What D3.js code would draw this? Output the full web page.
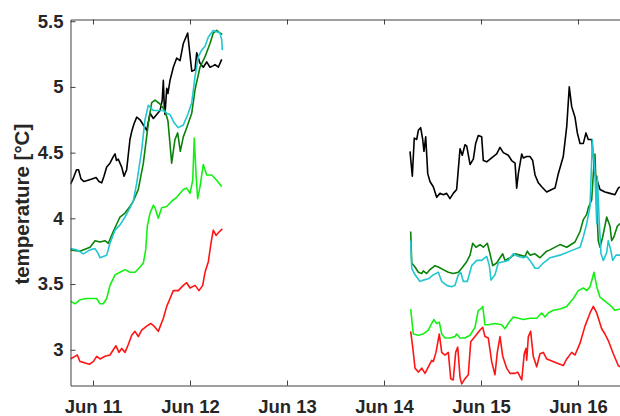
<!DOCTYPE html>
<html>
<head>
<meta charset="utf-8">
<script src="https://cdn.jsdelivr.net/npm/d3@7"></script>
<style>
  html, body { margin: 0; padding: 0; background: #fff; }
  svg { display: block; font-family: "Liberation Sans", Arial, Helvetica, sans-serif; }
</style>
</head>
<body>
<svg id="chart" width="620" height="416"></svg>
<script>
// ---- data: [day of June (decimal), temperature °C] ----
const blackSeg1 = [[10.768,4.26],[10.794,4.30],[10.830,4.37],[10.851,4.37],[10.876,4.30],[10.907,4.28],[10.948,4.29],[10.990,4.30],[11.031,4.31],[11.062,4.28],[11.090,4.27],[11.113,4.32],[11.141,4.39],[11.175,4.42],[11.209,4.47],[11.227,4.49],[11.242,4.44],[11.261,4.45],[11.296,4.39],[11.320,4.32],[11.347,4.37],[11.381,4.60],[11.399,4.66],[11.423,4.72],[11.451,4.77],[11.485,4.75],[11.519,4.71],[11.554,4.67],[11.588,4.80],[11.622,4.76],[11.657,4.79],[11.691,4.82],[11.714,4.90],[11.725,5.05],[11.735,4.85],[11.742,4.79],[11.760,4.99],[11.773,4.95],[11.794,5.05],[11.828,5.15],[11.863,5.22],[11.897,5.20],[11.931,5.33],[11.959,5.38],[11.976,5.41],[11.990,5.31],[12.018,5.12],[12.052,5.13],[12.069,5.26],[12.103,5.18],[12.137,5.15],[12.172,5.19],[12.206,5.15],[12.237,5.16],[12.258,5.17],[12.292,5.15],[12.327,5.21]];
const blackSeg2 = [[14.268,4.51],[14.292,4.32],[14.312,4.61],[14.337,4.60],[14.354,4.67],[14.378,4.69],[14.399,4.60],[14.412,4.51],[14.430,4.62],[14.451,4.34],[14.474,4.28],[14.508,4.24],[14.543,4.16],[14.577,4.19],[14.611,4.18],[14.646,4.19],[14.680,4.15],[14.714,4.19],[14.749,4.22],[14.784,4.53],[14.807,4.48],[14.835,4.56],[14.853,4.55],[14.887,4.41],[14.921,4.45],[14.945,4.57],[14.972,4.63],[15.007,4.62],[15.024,4.44],[15.059,4.43],[15.110,4.46],[15.162,4.49],[15.196,4.54],[15.230,4.50],[15.281,4.48],[15.316,4.44],[15.351,4.42],[15.368,4.23],[15.385,4.34],[15.420,4.49],[15.436,4.46],[15.471,4.47],[15.505,4.47],[15.533,4.44],[15.557,4.33],[15.591,4.27],[15.626,4.24],[15.677,4.20],[15.729,4.22],[15.763,4.23],[15.797,4.34],[15.848,4.47],[15.884,4.70],[15.910,5.00],[15.935,4.85],[15.969,4.77],[15.993,4.65],[16.021,4.57],[16.055,4.57],[16.082,4.65],[16.106,4.60],[16.141,4.60],[16.175,4.34],[16.227,4.22],[16.278,4.20],[16.330,4.19],[16.381,4.18],[16.415,4.23],[16.433,4.24]];

const darkGreenSeg1 = [[10.766,3.76],[10.866,3.75],[10.969,3.78],[11.021,3.83],[11.072,3.82],[11.124,3.83],[11.158,3.81],[11.209,3.90],[11.278,4.01],[11.330,4.04],[11.381,4.09],[11.415,4.13],[11.467,4.22],[11.519,4.42],[11.570,4.72],[11.605,4.88],[11.639,4.90],[11.691,4.87],[11.742,4.82],[11.773,4.74],[11.811,4.42],[11.845,4.60],[11.873,4.65],[11.900,4.51],[11.931,4.62],[11.966,4.69],[12.018,4.80],[12.052,4.98],[12.103,5.15],[12.155,5.23],[12.206,5.33],[12.240,5.41],[12.275,5.43],[12.309,5.41],[12.333,5.40]];
const darkGreenSeg2 = [[14.275,3.90],[14.286,3.66],[14.320,3.63],[14.354,3.59],[14.389,3.58],[14.405,3.60],[14.440,3.58],[14.474,3.61],[14.526,3.64],[14.560,3.63],[14.611,3.61],[14.663,3.59],[14.714,3.58],[14.766,3.59],[14.801,3.62],[14.853,3.67],[14.887,3.72],[14.914,3.81],[14.948,3.78],[14.990,3.80],[15.024,3.78],[15.065,3.81],[15.093,3.73],[15.121,3.64],[15.162,3.66],[15.196,3.70],[15.224,3.73],[15.247,3.68],[15.299,3.70],[15.351,3.73],[15.402,3.72],[15.454,3.71],[15.477,3.75],[15.505,3.72],[15.557,3.73],[15.608,3.70],[15.677,3.75],[15.711,3.76],[15.814,3.80],[15.884,3.78],[15.969,3.82],[16.021,3.90],[16.055,3.99],[16.090,4.03],[16.106,4.08],[16.141,4.14],[16.158,4.34],[16.175,4.49],[16.193,4.09],[16.209,3.83],[16.227,3.78],[16.255,3.86],[16.296,4.01],[16.330,3.94],[16.347,3.83],[16.371,3.86],[16.405,3.94],[16.433,3.96]];

const cyanSeg1 = [[10.766,3.77],[10.832,3.76],[10.900,3.73],[10.969,3.76],[11.021,3.77],[11.055,3.73],[11.072,3.70],[11.106,3.71],[11.141,3.72],[11.175,3.81],[11.227,3.91],[11.278,3.95],[11.330,4.01],[11.381,4.08],[11.415,4.13],[11.451,4.27],[11.502,4.52],[11.536,4.75],[11.570,4.86],[11.622,4.82],[11.691,4.82],[11.725,4.82],[11.760,4.80],[11.794,4.79],[11.835,4.73],[11.879,4.69],[11.931,4.71],[11.982,4.80],[12.018,4.88],[12.052,5.08],[12.086,5.23],[12.121,5.28],[12.155,5.31],[12.189,5.38],[12.240,5.43],[12.275,5.42],[12.309,5.41],[12.327,5.36],[12.333,5.28]];
const cyanSeg2 = [[14.275,3.83],[14.286,3.62],[14.320,3.57],[14.371,3.52],[14.405,3.53],[14.457,3.54],[14.508,3.57],[14.560,3.59],[14.595,3.52],[14.646,3.49],[14.698,3.48],[14.732,3.49],[14.766,3.57],[14.791,3.59],[14.818,3.52],[14.859,3.52],[14.904,3.64],[14.956,3.68],[15.007,3.68],[15.059,3.71],[15.086,3.64],[15.103,3.53],[15.144,3.57],[15.178,3.66],[15.230,3.67],[15.281,3.68],[15.333,3.73],[15.385,3.71],[15.436,3.70],[15.471,3.71],[15.505,3.68],[15.557,3.62],[15.591,3.62],[15.642,3.66],[15.711,3.70],[15.814,3.72],[15.952,3.76],[16.021,3.78],[16.055,3.86],[16.090,3.96],[16.124,4.09],[16.141,4.44],[16.147,4.60],[16.175,4.34],[16.193,3.96],[16.199,4.32],[16.220,3.96],[16.237,3.73],[16.261,3.68],[16.296,3.74],[16.312,3.83],[16.337,3.76],[16.358,3.68],[16.392,3.72],[16.433,3.72]];

const greenSeg1 = [[10.766,3.37],[10.814,3.35],[10.866,3.38],[10.935,3.39],[11.003,3.39],[11.038,3.39],[11.072,3.35],[11.106,3.35],[11.141,3.39],[11.175,3.49],[11.227,3.57],[11.278,3.59],[11.330,3.61],[11.381,3.59],[11.433,3.59],[11.485,3.63],[11.519,3.66],[11.543,3.76],[11.560,3.94],[11.588,4.04],[11.622,4.10],[11.639,4.08],[11.673,4.00],[11.708,4.08],[11.760,4.09],[11.811,4.13],[11.863,4.16],[11.931,4.22],[11.966,4.23],[12.000,4.19],[12.028,4.29],[12.044,4.61],[12.062,4.34],[12.079,4.15],[12.103,4.24],[12.137,4.41],[12.172,4.33],[12.224,4.33],[12.275,4.29],[12.327,4.24]];
const greenSeg2 = [[14.275,3.31],[14.302,3.12],[14.354,3.11],[14.405,3.12],[14.457,3.15],[14.492,3.20],[14.515,3.23],[14.543,3.20],[14.570,3.21],[14.595,3.12],[14.629,3.09],[14.680,3.09],[14.732,3.10],[14.749,3.12],[14.784,3.09],[14.835,3.09],[14.887,3.11],[14.938,3.17],[14.972,3.30],[14.997,3.31],[15.018,3.33],[15.041,3.19],[15.075,3.19],[15.144,3.20],[15.213,3.19],[15.247,3.16],[15.281,3.20],[15.333,3.25],[15.385,3.24],[15.436,3.23],[15.505,3.24],[15.574,3.24],[15.626,3.28],[15.660,3.25],[15.694,3.28],[15.745,3.30],[15.814,3.31],[15.884,3.33],[15.952,3.39],[16.003,3.45],[16.055,3.47],[16.090,3.45],[16.124,3.48],[16.147,3.54],[16.165,3.59],[16.193,3.48],[16.227,3.40],[16.278,3.37],[16.330,3.34],[16.381,3.30],[16.433,3.31]];

const redSeg1 = [[10.766,2.93],[10.814,2.95],[10.838,2.96],[10.866,2.91],[10.918,2.90],[10.962,2.89],[11.003,2.91],[11.038,2.95],[11.072,2.93],[11.124,2.95],[11.175,2.96],[11.209,3.00],[11.237,3.03],[11.268,2.98],[11.296,3.01],[11.330,2.98],[11.364,3.04],[11.399,3.11],[11.433,3.14],[11.467,3.10],[11.502,3.15],[11.554,3.18],[11.595,3.20],[11.629,3.18],[11.673,3.14],[11.725,3.24],[11.760,3.33],[11.794,3.39],[11.828,3.45],[11.879,3.45],[11.931,3.49],[11.966,3.51],[12.000,3.47],[12.052,3.49],[12.093,3.45],[12.131,3.49],[12.155,3.59],[12.189,3.67],[12.216,3.81],[12.240,3.91],[12.268,3.87],[12.292,3.89],[12.333,3.92]];
const redSeg2 = [[14.275,3.14],[14.296,3.02],[14.320,2.86],[14.354,2.83],[14.389,2.86],[14.423,2.82],[14.457,2.87],[14.492,2.92],[14.508,2.91],[14.536,2.98],[14.570,3.12],[14.595,2.98],[14.629,2.96],[14.663,2.98],[14.688,2.78],[14.714,2.77],[14.739,2.98],[14.760,3.02],[14.784,2.79],[14.801,2.74],[14.835,2.78],[14.869,2.81],[14.894,3.06],[14.938,3.10],[14.990,3.15],[15.018,3.17],[15.041,3.10],[15.075,3.09],[15.110,2.91],[15.144,2.81],[15.168,2.98],[15.196,3.10],[15.224,2.95],[15.265,2.86],[15.299,2.82],[15.351,2.82],[15.378,2.83],[15.420,2.77],[15.446,2.97],[15.464,3.01],[15.471,2.92],[15.488,3.10],[15.512,3.14],[15.539,2.95],[15.574,2.87],[15.608,2.97],[15.642,2.98],[15.677,2.93],[15.711,2.92],[15.780,2.90],[15.848,2.88],[15.884,2.93],[15.935,2.98],[15.969,2.96],[16.021,3.05],[16.072,3.18],[16.124,3.28],[16.158,3.33],[16.193,3.28],[16.244,3.16],[16.278,3.12],[16.312,3.07],[16.364,2.97],[16.415,2.88],[16.433,2.87]];

const xTickDays = [11, 12, 13, 14, 15, 16];
const yTicks = [3, 3.5, 4, 4.5, 5, 5.5];
const yLabel = "temperature [°C]";

const series = [
  { name: "black", color: "#000000", segs: [blackSeg1, blackSeg2] },
  { name: "darkgreen", color: "#0a820a", segs: [darkGreenSeg1, darkGreenSeg2] },
  { name: "cyan", color: "#22c6d0", segs: [cyanSeg1, cyanSeg2] },
  { name: "green", color: "#14f014", segs: [greenSeg1, greenSeg2] },
  { name: "red", color: "#ff1414", segs: [redSeg1, redSeg2] }
];

(function draw() {
  const svg = d3.select("#chart");
  const pL = 70.5, pR = 620, pT = 19.5, pB = 385.5;
  const axisColor = "#404040", textColor = "#262626";
  const dayToDate = d => new Date(Date.UTC(2016, 5, 1) + (d - 1) * 864e5);

  const x = d3.scaleUtc().domain([dayToDate(10.768), dayToDate(16.433)]).range([pL, pR]);
  const y = d3.scaleLinear().domain([2.728, 5.513]).range([pB, pT]);

  svg.append("defs").append("clipPath").attr("id", "clip")
    .append("rect").attr("x", pL).attr("y", pT).attr("width", pR - pL).attr("height", pB - pT);

  const line = d3.line().x(d => x(dayToDate(d[0]))).y(d => y(d[1]));

  const g = svg.append("g").attr("clip-path", "url(#clip)");
  series.forEach(s => {
    s.segs.forEach(seg => {
      g.append("path").datum(seg)
        .attr("d", line)
        .attr("fill", "none")
        .attr("stroke", s.color)
        .attr("stroke-width", 1.6)
        .attr("stroke-linejoin", "round");
    });
  });

  const fmt = d3.utcFormat("%b %-d");
  const xb = svg.append("g").attr("transform", `translate(0,${pB})`)
    .call(d3.axisBottom(x).tickValues(xTickDays.map(dayToDate)).tickFormat(fmt)
      .tickSizeInner(-5).tickSizeOuter(0).tickPadding(14));
  const xt = svg.append("g").attr("transform", `translate(0,${pT})`)
    .call(d3.axisTop(x).tickValues(xTickDays.map(dayToDate)).tickFormat("")
      .tickSizeInner(-5).tickSizeOuter(0));
  const yl = svg.append("g").attr("transform", `translate(${pL},0)`)
    .call(d3.axisLeft(y).tickValues(yTicks).tickFormat(d3.format("~g"))
      .tickSizeInner(-5).tickSizeOuter(0).tickPadding(7));

  [xb, xt, yl].forEach(a => {
    a.selectAll("path.domain").attr("stroke", axisColor).attr("stroke-width", 1);
    a.selectAll(".tick line").attr("stroke", axisColor).attr("stroke-width", 1);
    a.selectAll("text").attr("fill", textColor)
      .style("font-size", "18.5px").style("font-weight", "bold")
      .style("font-family", '"Liberation Sans", Arial, sans-serif');
  });
  xb.selectAll("text").attr("dy", "0.71em");

  svg.append("text")
    .attr("transform", `translate(28.5,${(121.7 + 286.7) / 2}) rotate(-90)`)
    .attr("text-anchor", "middle")
    .attr("fill", textColor)
    .style("font-size", "20.5px").style("font-weight", "bold")
    .text(yLabel);
})();
</script>
</body>
</html>
